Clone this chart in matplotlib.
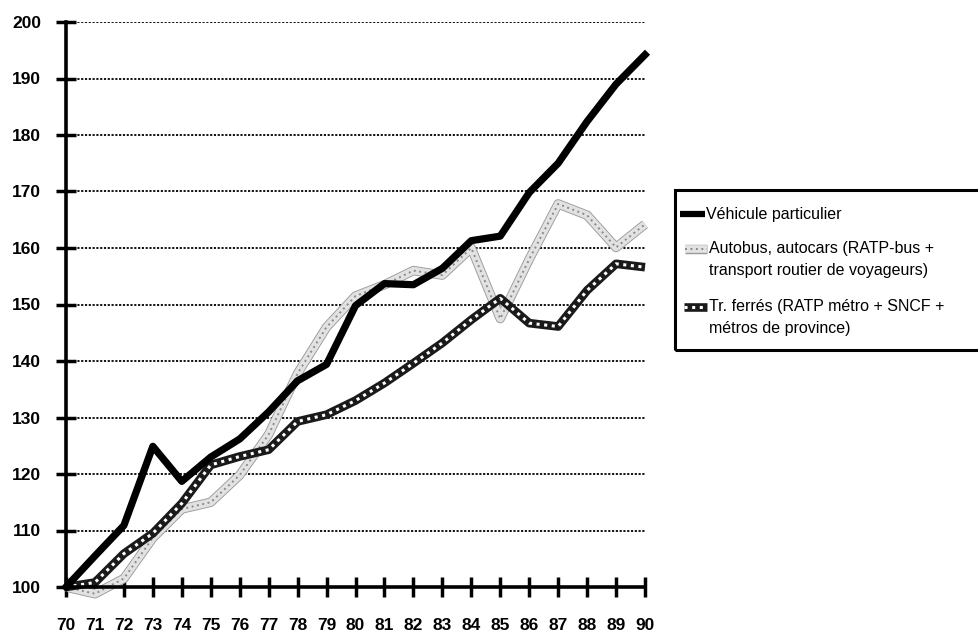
import matplotlib
matplotlib.use('Agg')
import matplotlib.pyplot as plt
from matplotlib.patches import Rectangle
import matplotlib.patheffects as pe

years = list(range(70, 91))
year_labels = [str(y) for y in years]
vehicule = [100, 105.5, 110.9, 124.9, 118.7, 123.0, 126.2, 131.0, 136.5, 139.4,
            149.8, 153.7, 153.5, 156.4, 161.3, 162.1, 169.8, 175.0, 182.4, 189.0, 194.2]
autobus = [100, 98.8, 101.5, 108.7, 113.8, 115.0, 119.8, 127.0, 137.8, 146.0,
           151.5, 153.5, 156.0, 155.2, 160.0, 147.5, 158.0, 167.8, 165.8, 160.1, 164.2]
ferres = [100, 100.8, 105.9, 109.5, 114.8, 121.6, 123.1, 124.3, 129.3, 130.5,
          133.0, 136.1, 139.6, 143.2, 147.3, 151.1, 146.7, 146.1, 152.5, 157.2, 156.6]
yticks = list(range(100, 201, 10))
labels = ["Véhicule particulier",
          "Autobus, autocars (RATP-bus +\ntransport routier de voyageurs)",
          "Tr. ferrés (RATP métro + SNCF +\nmétros de province)"]

plt.rcParams['font.family'] = ['Liberation Sans', 'DejaVu Sans']

fig = plt.figure(figsize=(9.79, 6.32), dpi=100)
ax = fig.add_axes([66/979, 45/632, (645-66)/979, (587-22)/632])
ax.set_xlim(70, 90)
ax.set_ylim(100, 200)

for s in ['top', 'right']:
    ax.spines[s].set_visible(False)
for s in ['left', 'bottom']:
    ax.spines[s].set_linewidth(2.6)
    ax.spines[s].set_zorder(5)

ax.set_yticks(yticks)
ax.set_xticks(years)
ax.set_xticklabels(year_labels)
ax.tick_params(axis='both', direction='inout', length=14, width=2.5, labelsize=12.5)
ax.tick_params(axis='y', pad=11)
ax.tick_params(axis='x', pad=15)
for t in ax.get_xticklabels() + ax.get_yticklabels():
    t.set_fontweight('bold')

ax.yaxis.grid(True, color='black', linestyle=(0, (1.2, 0.9)), linewidth=1.3)
ax.set_axisbelow(True)

def autobus_style(a, xs, ys, **kw):
    a.plot(xs, ys, color='#e2e2e2', lw=5.5, solid_capstyle='butt',
           path_effects=[pe.Stroke(linewidth=6.8, foreground='#9a9a9a'), pe.Normal()], **kw)
    a.plot(xs, ys, color='#8a8a8a', lw=1.4, linestyle=(0, (1, 1.8)), **kw)

def ferres_style(a, xs, ys, **kw):
    a.plot(xs, ys, color='#1a1a1a', lw=6.2, solid_capstyle='butt', **kw)
    a.plot(xs, ys, color='white', lw=2.2, linestyle=(0, (1, 1.5)), **kw)

autobus_style(ax, years, autobus, clip_on=False, zorder=3)
ferres_style(ax, years, ferres, clip_on=False, zorder=3)
ax.plot(years, vehicule, color='black', lw=5.2, clip_on=False, zorder=4)

# legend box
W, H = 979, 632
def fx(x): return x / W
def fy(y): return 1 - y / H

box = Rectangle((fx(675), fy(350)), fx(995) - fx(675), fy(190) - fy(350),
                transform=fig.transFigure, fill=False, edgecolor='black', lw=2.2, clip_on=False)
fig.patches.append(box)

lax = fig.add_axes([0, 0, 1, 1], facecolor='none')
lax.set_xlim(0, W)
lax.set_ylim(H, 0)
lax.axis('off')
lax.plot([680, 705], [214, 214], color='black', lw=4.5, solid_capstyle='butt')
autobus_style(lax, [685, 707], [249, 249])
ferres_style(lax, [684, 707], [307, 307])
fs = 11.5
lax.text(706, 214, labels[0], fontsize=fs, va='center', ha='left')
lax.text(709, 249, labels[1].split('\n')[0], fontsize=fs, va='center', ha='left')
lax.text(709, 271, labels[1].split('\n')[1], fontsize=fs, va='center', ha='left')
lax.text(709, 307, labels[2].split('\n')[0], fontsize=fs, va='center', ha='left')
lax.text(709, 329, labels[2].split('\n')[1], fontsize=fs, va='center', ha='left')

fig.savefig('out.png', dpi=100)
